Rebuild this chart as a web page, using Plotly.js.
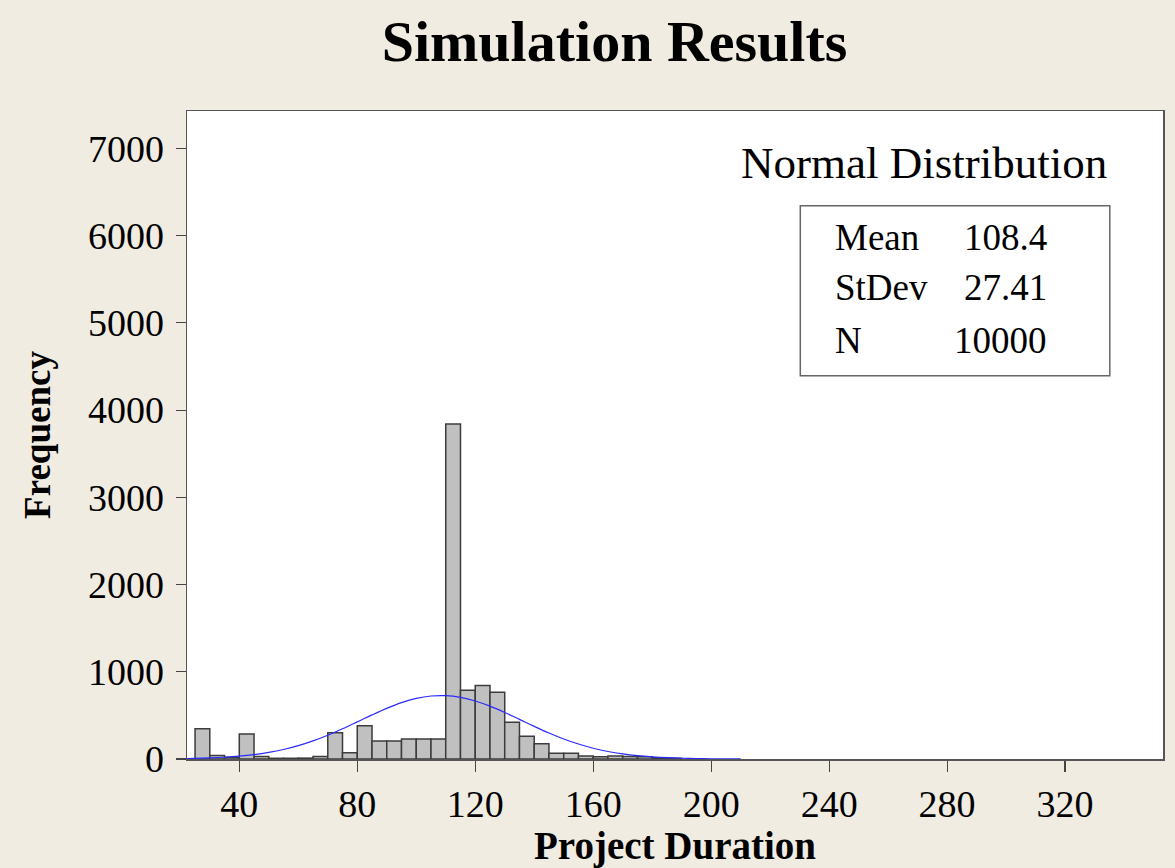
<!DOCTYPE html>
<html>
<head>
<meta charset="utf-8">
<script src="https://cdn.plot.ly/plotly-3.0.1.min.js"></script>
<style>
  html, body { margin: 0; padding: 0; background: #F0ECE2; }
  #chart { width: 1175px; height: 868px; }
</style>
</head>
<body>
<div id="chart"></div>
<script>
// Histogram bins (midpoints, bin width 5) and counts
const binMids = [27.5, 32.5, 37.5, 42.5, 47.5, 52.5, 57.5, 62.5, 67.5, 72.5, 77.5, 82.5,
                 87.5, 92.5, 97.5, 102.5, 107.5, 112.5, 117.5, 122.5, 127.5, 132.5, 137.5,
                 142.5, 147.5, 152.5, 157.5, 162.5, 167.5, 172.5, 177.5, 182.5, 187.5];
const counts = [348, 40, 20, 287, 30, 8, 8, 10, 30, 302, 72, 380,
                207, 207, 230, 230, 230, 3840, 788, 843, 766, 421, 260,
                175, 65, 65, 35, 25, 35, 30, 25, 15, 8];
const binWidth = 5;

// Fitted normal curve (Mean 108.4, StDev 27.41, N 10000)
const curveX = [20, 25, 30, 35, 40, 45, 50, 55, 60, 65, 70, 75, 80, 85, 90, 95, 100, 105,
                110, 115, 120, 125, 130, 135, 140, 145, 150, 155, 160, 165, 170, 175, 180,
                185, 190, 195, 200, 205, 210];
const curveY = [4.0, 7.1, 12.2, 20.2, 32.3, 50.1, 75.2, 109.1, 153.1, 207.8, 272.7, 346.4,
                425.4, 505.5, 580.9, 645.8, 694.3, 722.1, 726.5, 706.9, 665.3, 605.7, 533.5,
                454.4, 374.4, 298.4, 230.0, 171.5, 123.7, 86.3, 58.2, 38.0, 24.0, 14.7, 8.7,
                4.9, 2.7, 1.5, 0.8];

const statLabels = ["Mean", "StDev", "N"];
const statValues = ["108.4", "27.41", "10000"];

const xTicks = [40, 80, 120, 160, 200, 240, 280, 320];
const yTicks = [0, 1000, 2000, 3000, 4000, 5000, 6000, 7000];

const serif = "Liberation Serif, Times New Roman, serif";

const traces = [
  {
    type: "bar",
    x: binMids,
    y: counts,
    width: binWidth,
    marker: { color: "#C0C0C0", line: { color: "#3C3C3C", width: 1.5 } },
    hoverinfo: "x+y"
  },
  {
    type: "scatter",
    mode: "lines",
    x: curveX,
    y: curveY,
    line: { color: "#2B2BFF", width: 1.2, shape: "spline" },
    hoverinfo: "skip"
  }
];

const rowY = [0.8044, 0.7272, 0.6454];
const annotations = [
  {
    xref: "paper", yref: "paper", x: 0.7554, y: 0.920,
    text: "Normal Distribution", showarrow: false,
    xanchor: "center", yanchor: "middle",
    font: { family: serif, size: 45, color: "#000" }
  }
];
statLabels.forEach((lab, i) => {
  annotations.push({
    xref: "paper", yref: "paper", x: 0.6622, y: rowY[i],
    text: lab, showarrow: false, xanchor: "left", yanchor: "middle",
    font: { family: serif, size: 37, color: "#000" }
  });
  annotations.push({
    xref: "paper", yref: "paper", x: 0.8834, y: rowY[i],
    text: statValues[i], showarrow: false, xanchor: "right", yanchor: "middle",
    font: { family: serif, size: 37, color: "#000" }
  });
});

const layout = {
  width: 1175,
  height: 868,
  paper_bgcolor: "#F0ECE2",
  plot_bgcolor: "#FFFFFF",
  showlegend: false,
  bargap: 0,
  margin: { l: 186.7, r: 12.3, t: 111.3, b: 109, pad: 0 },
  title: {
    text: "Simulation Results",
    font: { family: serif, size: 58, color: "#000", weight: "bold" },
    x: 0.523, xanchor: "center",
    y: 0.953, yref: "container", yanchor: "middle"
  },
  xaxis: {
    range: [22.27, 353.2],
    tickvals: xTicks,
    ticktext: xTicks.map(String),
    ticks: "outside", ticklen: 11, tickwidth: 1.2, tickcolor: "#444",
    showline: true, linecolor: "#555", linewidth: 1.5, mirror: true,
    showgrid: false, zeroline: false,
    tickfont: { family: serif, size: 38, color: "#000" },
    title: {
      text: "Project Duration",
      font: { family: serif, size: 39, color: "#000", weight: "bold" },
      standoff: 6
    }
  },
  yaxis: {
    range: [0, 7429],
    tickvals: yTicks,
    ticktext: yTicks.map(String),
    ticks: "outside", ticklen: 10, tickwidth: 1.2, tickcolor: "#444",
    showline: true, linecolor: "#555", linewidth: 1.5, mirror: true,
    showgrid: false, zeroline: false,
    ticklabelstandoff: 4,
    tickfont: { family: serif, size: 38, color: "#000" },
    title: {
      text: "Frequency",
      font: { family: serif, size: 37, color: "#000", weight: "bold" },
      standoff: 26
    }
  },
  shapes: [
    {
      type: "rect", xref: "paper", yref: "paper",
      x0: 0.6284, x1: 0.9455, y0: 0.5913, y1: 0.8538,
      line: { color: "#666", width: 1.5 }, fillcolor: "rgba(0,0,0,0)"
    }
  ],
  annotations: annotations
};

Plotly.newPlot("chart", traces, layout, { displayModeBar: false, staticPlot: true });
</script>
</body>
</html>
